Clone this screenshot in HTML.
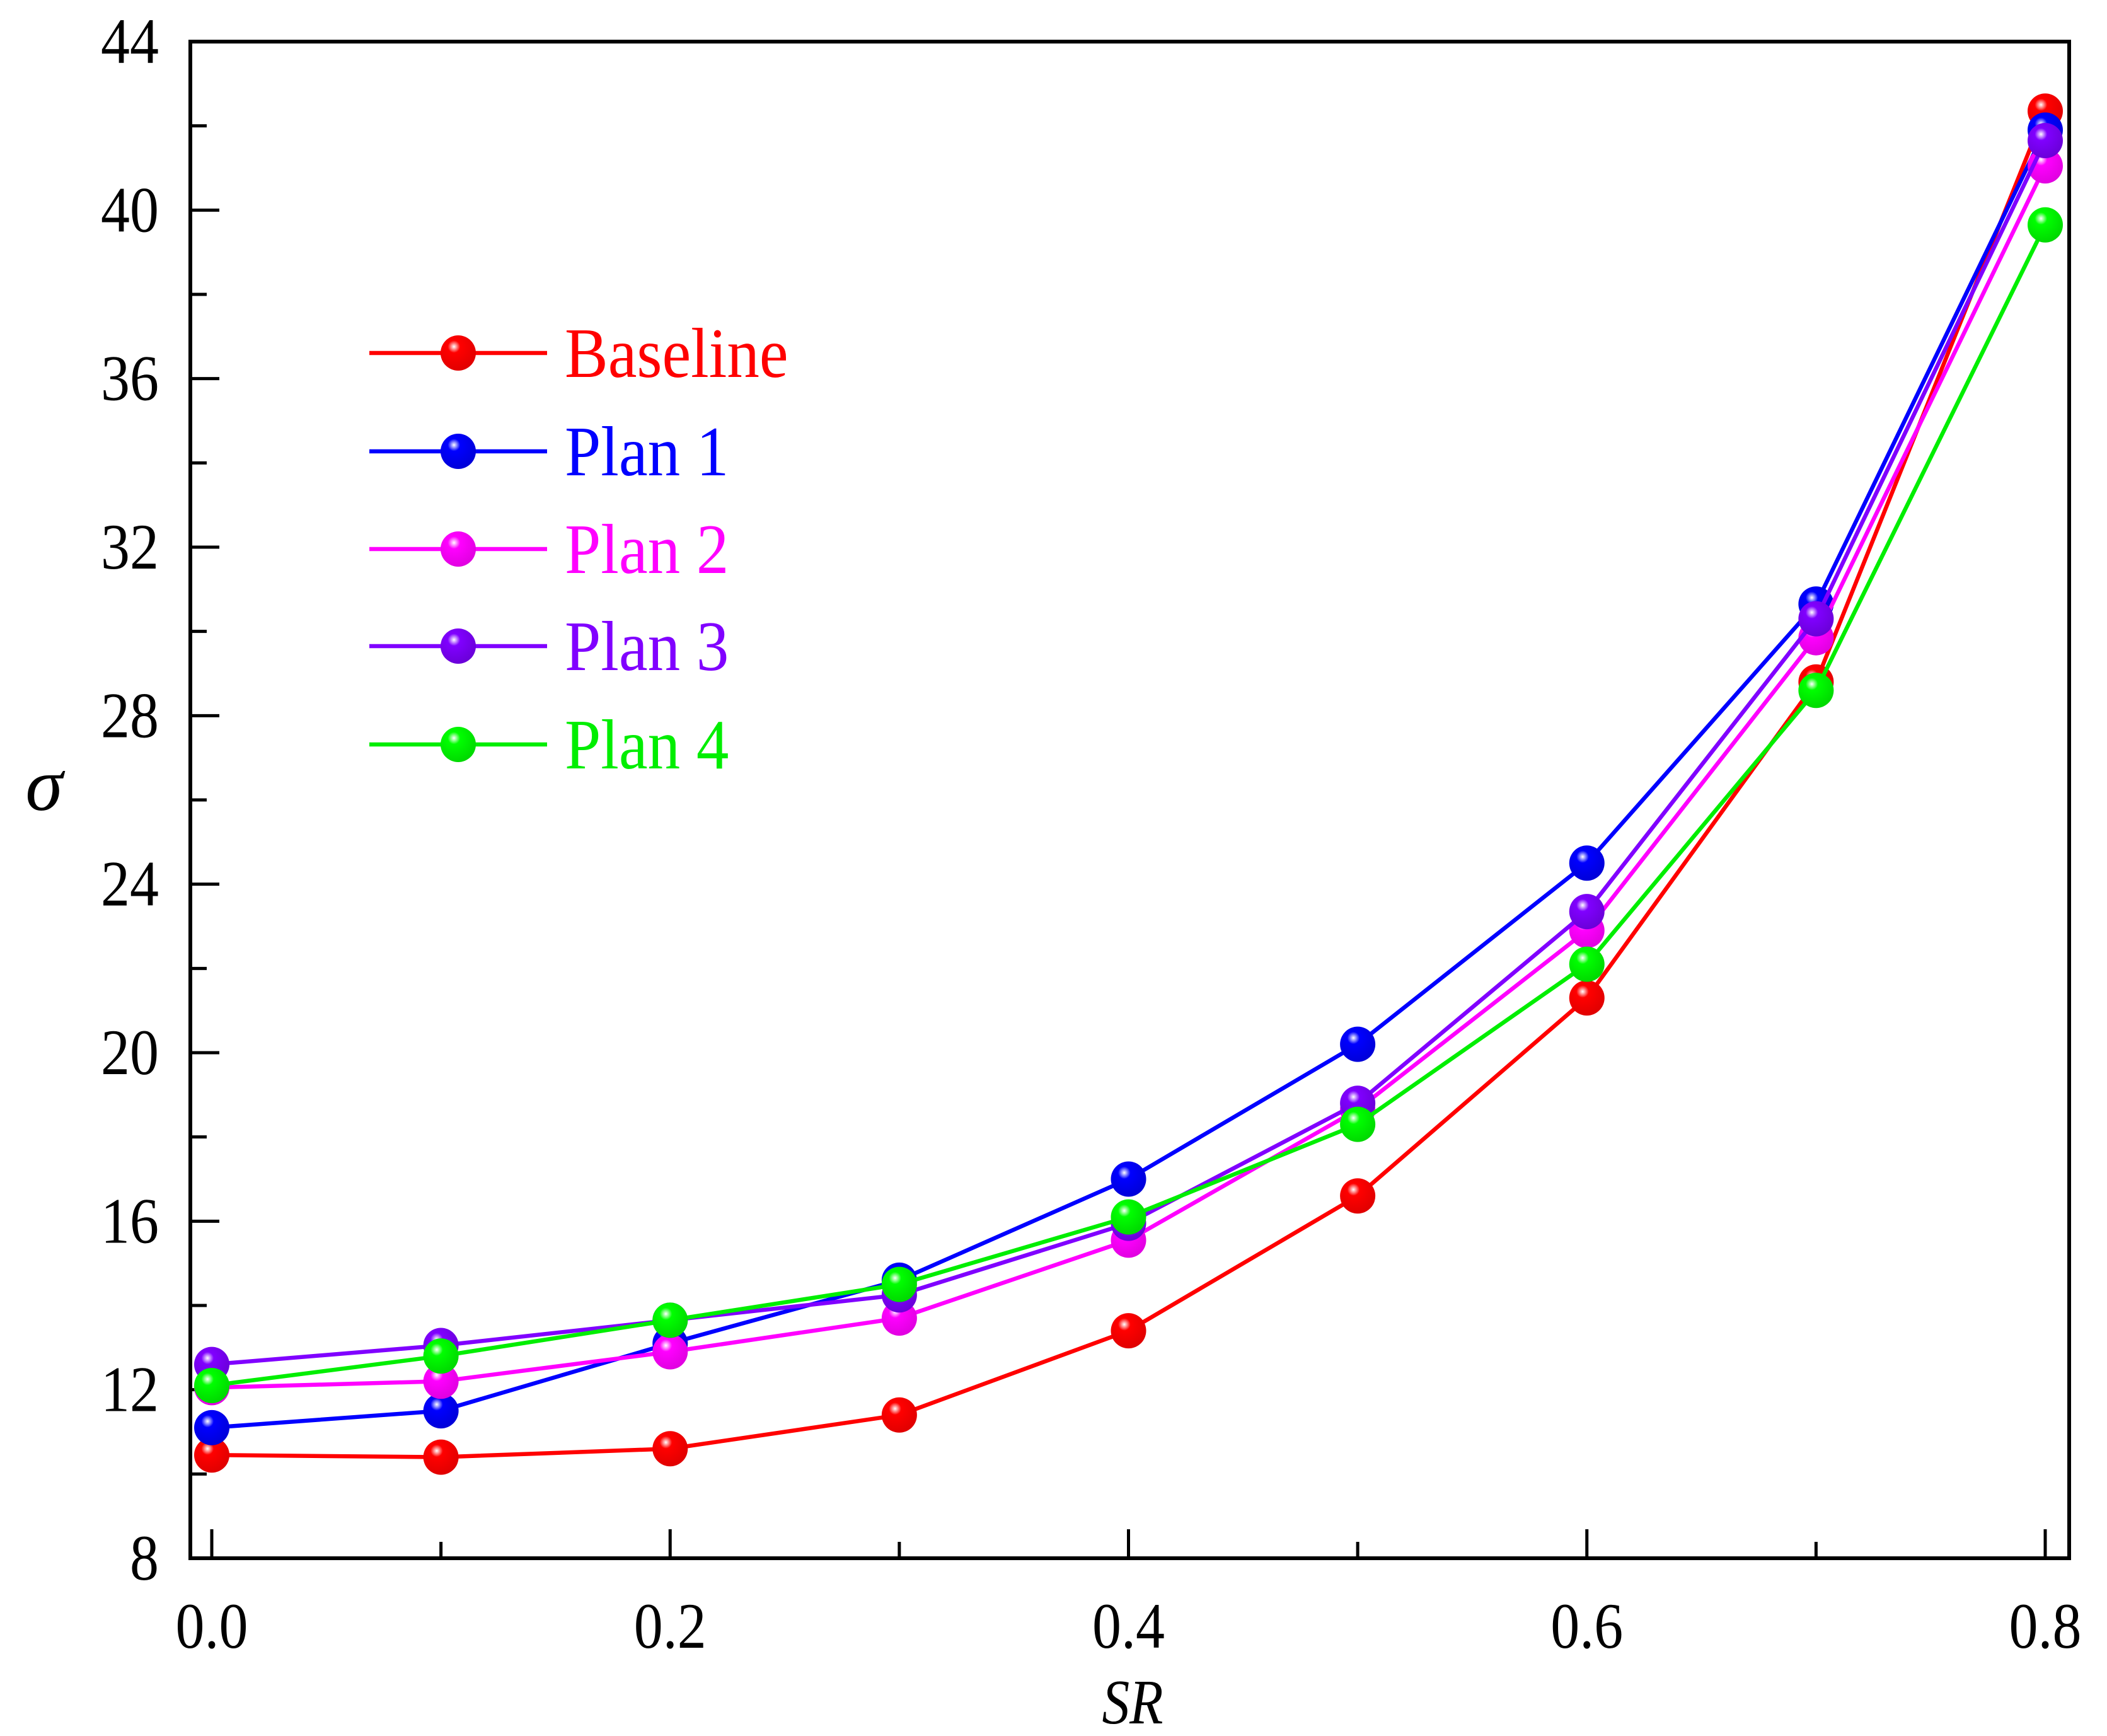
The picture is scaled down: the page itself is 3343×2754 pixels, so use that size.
<!DOCTYPE html>
<html><head><meta charset="utf-8"><style>
html,body{margin:0;padding:0;background:#fff;}
svg{display:block;}
text{font-family:"Liberation Serif",serif;}
</style></head><body>
<svg id="chart" width="3343" height="2754" viewBox="0 0 3343 2754" xmlns="http://www.w3.org/2000/svg">
<defs>
<radialGradient id="g-red" cx="0.38" cy="0.32" r="0.7"><stop offset="0" stop-color="#fff"/><stop offset="0.25" stop-color="#ff0000"/><stop offset="1" stop-color="#e00000"/></radialGradient>
<radialGradient id="g-blue" cx="0.38" cy="0.32" r="0.7"><stop offset="0" stop-color="#fff"/><stop offset="0.25" stop-color="#0000ff"/><stop offset="1" stop-color="#0000d8"/></radialGradient>
<radialGradient id="g-mag" cx="0.38" cy="0.32" r="0.7"><stop offset="0" stop-color="#fff"/><stop offset="0.25" stop-color="#ff00ff"/><stop offset="1" stop-color="#e000e0"/></radialGradient>
<radialGradient id="g-pur" cx="0.38" cy="0.32" r="0.7"><stop offset="0" stop-color="#fff"/><stop offset="0.25" stop-color="#8000ff"/><stop offset="1" stop-color="#6a00d8"/></radialGradient>
<radialGradient id="g-grn" cx="0.38" cy="0.32" r="0.7"><stop offset="0" stop-color="#fff"/><stop offset="0.25" stop-color="#00ff00"/><stop offset="1" stop-color="#00d800"/></radialGradient>
</defs>
<g id="axes"></g>
<g id="series"></g>
<g id="legend"></g>
<text x="70" y="1285" font-size="120" text-anchor="middle" font-style="italic">σ</text>
<text transform="translate(1797,2734) scale(0.95,1.1)" font-size="92" text-anchor="middle" font-style="italic">SR</text>
</svg>
<script>
const categories = [0.0, 0.1, 0.2, 0.3, 0.4, 0.5, 0.6, 0.7, 0.8];
const baseline = [10.45, 10.4, 10.6, 11.4, 13.4, 16.6, 21.3, 28.8, 42.35];
const plan1 = [11.1, 11.5, 13.1, 14.6, 17.0, 20.2, 24.5, 30.65, 41.9];
const plan2 = [12.05, 12.2, 12.9, 13.7, 15.55, 18.65, 22.9, 29.85, 41.05];
const plan3 = [12.6, 13.05, 13.65, 14.25, 15.95, 18.8, 23.35, 30.3, 41.65];
const plan4 = [12.1, 12.8, 13.65, 14.5, 16.1, 18.3, 22.1, 28.6, 39.65];
const seriesNames = ["Baseline", "Plan 1", "Plan 2", "Plan 3", "Plan 4"];
const xTickLabels = ["0.0", "0.2", "0.4", "0.6", "0.8"];
const yTickLabels = ["8", "12", "16", "20", "24", "28", "32", "36", "40", "44"];

const NS = "http://www.w3.org/2000/svg";
const L = 302, R = 3283, T = 66, B = 2472;
const x0 = 336, x1 = 3245;
function xs(v){ return x0 + (v - 0) / 0.8 * (x1 - x0); }
function ys(v){ return B - (v - 8) / 36 * (B - T); }
function mk(tag, attrs, parent){
  const e = document.createElementNS(NS, tag);
  for (const k in attrs) e.setAttribute(k, attrs[k]);
  parent.appendChild(e); return e;
}
const axes = document.getElementById('axes');
for (let i = 0; i <= 8; i++) {
  const v = i * 0.1, major = i % 2 === 0;
  const t = mk('line', {x1: xs(v), x2: xs(v), y1: B, y2: B - (major ? 46 : 26), stroke: '#000', 'stroke-width': 5}, axes);
  
  
}
for (let i = 0; i < xTickLabels.length; i++) {
  const tx = mk('text', {transform: 'translate(' + xs(parseFloat(xTickLabels[i])) + ',2614) scale(1.0,1.12)', 'font-size': 92, 'text-anchor': 'middle'}, axes);
  tx.textContent = xTickLabels[i];
  
  
}
for (let v = 8; v <= 44; v += 2) {
  const major = (v % 4 === 0);
  const t = mk('line', {x1: L, x2: L + (major ? 46 : 26), y1: ys(v), y2: ys(v), stroke: '#000', 'stroke-width': 5}, axes);
  
  
}
for (let i = 0; i < yTickLabels.length; i++) {
  const tx = mk('text', {transform: 'translate(252,' + (ys(parseFloat(yTickLabels[i])) + 34) + ') scale(1.0,1.12)', 'font-size': 92, 'text-anchor': 'end'}, axes);
  tx.textContent = yTickLabels[i];
  
  
}
const frame = mk('rect', {x: L, y: T, width: R - L, height: B - T, fill: 'none', stroke: '#000', 'stroke-width': 6}, axes);



const colors = ['#ff0000', '#0000ff', '#ff00ff', '#8000ff', '#00ee00'];
const grads = ['g-red', 'g-blue', 'g-mag', 'g-pur', 'g-grn'];
const allData = [baseline, plan1, plan2, plan3, plan4];
const sg = document.getElementById('series');
for (let s = 0; s < allData.length; s++) {
  const g = mk('g', {}, sg);
  
  
  const pts = allData[s].map((v, i) => xs(categories[i]) + ',' + ys(v)).join(' ');
  const pl = mk('polyline', {points: pts, fill: 'none', stroke: colors[s], 'stroke-width': 6.5, 'stroke-linejoin': 'round'}, g);
  
  
  allData[s].forEach((v, i) => {
    const c = mk('circle', {cx: xs(categories[i]), cy: ys(v), r: 28, fill: 'url(#' + grads[s] + ')'}, g);
    
    
  });
}
const lg = document.getElementById('legend');
const legY = [560, 716, 871, 1025, 1181];
for (let s = 0; s < seriesNames.length; s++) {
  const g = mk('g', {}, lg);
  
  
  const ln = mk('line', {x1: 586, x2: 868, y1: legY[s], y2: legY[s], stroke: colors[s], 'stroke-width': 6.5}, g);
  
  
  const c = mk('circle', {cx: 727, cy: legY[s], r: 28, fill: 'url(#' + grads[s] + ')'}, g);
  
  
  const t = mk('text', {transform: 'translate(896,' + (legY[s] + 38) + ') scale(1.03,1.12)', 'font-size': 100, fill: colors[s]}, g);
  t.textContent = seriesNames[s];
  
  
}
</script>
</body></html>
